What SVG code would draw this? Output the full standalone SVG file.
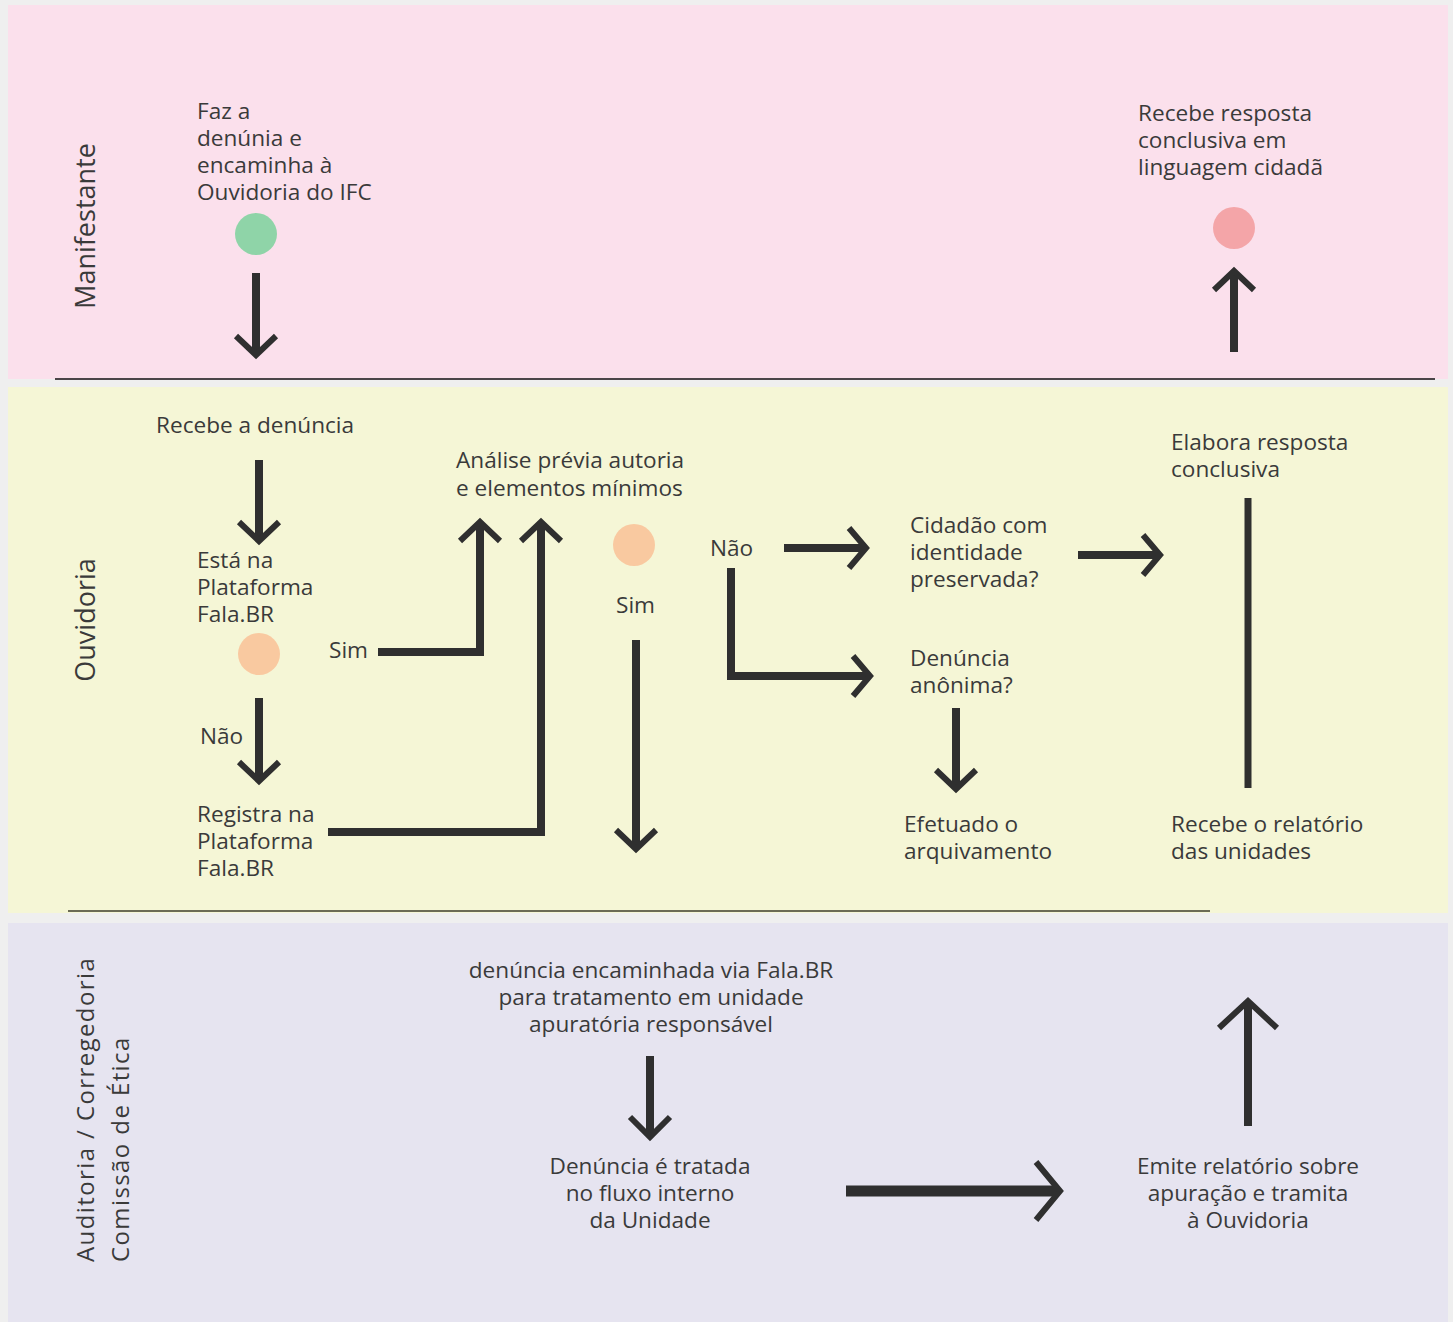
<svg xmlns="http://www.w3.org/2000/svg" width="1453" height="1322" viewBox="0 0 1453 1322">
<style>
.t{font-family:"Open Sans","Liberation Sans",sans-serif;font-size:22.6px;fill:#3a3a3a}
.c{text-anchor:middle}
.lane{font-family:"Open Sans","Liberation Sans",sans-serif;font-size:27px;fill:#3a3a3a}
.lane2{font-family:"Open Sans","Liberation Sans",sans-serif;font-size:24px;fill:#3a3a3a;letter-spacing:1.4px}
.sh{fill:none;stroke:#2f2f2f;stroke-width:8;stroke-linejoin:miter}
.hd{fill:none;stroke:#2f2f2f;stroke-width:6;stroke-linejoin:miter}
</style>
<rect x="0" y="0" width="1453" height="1322" fill="#efefef"/>
<g id="lanes">
<rect x="8" y="5" width="1440" height="374" fill="#fbe0ec"/>
<rect x="8" y="387" width="1440" height="526" fill="#f5f6d6"/>
<rect x="8" y="923" width="1440" height="399" fill="#e6e4f0"/>
<line x1="55" y1="379" x2="1435" y2="379" stroke="#4a4548" stroke-width="2"/>
<line x1="68" y1="911" x2="1210" y2="911" stroke="#6b6b55" stroke-width="2"/>
<text class="lane" transform="translate(95,226) rotate(-90)" text-anchor="middle">Manifestante</text>
<text class="lane" transform="translate(95,620) rotate(-90)" text-anchor="middle">Ouvidoria</text>
<text class="lane2" transform="translate(129,1262) rotate(-90)"><tspan x="0" y="-35">Auditoria / Corregedoria</tspan><tspan x="0" y="0">Comissão de Ética</tspan></text>
</g>
<g id="n-faz">
<text class="t"><tspan x="197" y="119">Faz a</tspan><tspan x="197" y="146">denúnia e</tspan><tspan x="197" y="173">encaminha à</tspan><tspan x="197" y="200">Ouvidoria do IFC</tspan></text>
<circle cx="256" cy="234" r="21" fill="#8fd4a8"/>
</g>
<g id="n-recebe-resposta">
<text class="t"><tspan x="1138" y="121">Recebe resposta</tspan><tspan x="1138" y="148">conclusiva em</tspan><tspan x="1138" y="175">linguagem cidadã</tspan></text>
<circle cx="1234" cy="228" r="21" fill="#f4a5a8"/>
</g>
<g id="n-recebe-denuncia"><text class="t" x="156" y="433">Recebe a denúncia</text></g>
<g id="n-esta">
<text class="t"><tspan x="197" y="568">Está na</tspan><tspan x="197" y="595">Plataforma</tspan><tspan x="197" y="622">Fala.BR</tspan></text>
<circle cx="259" cy="654" r="21" fill="#f9c9a0"/>
</g>
<g id="n-registra">
<text class="t"><tspan x="197" y="822">Registra na</tspan><tspan x="197" y="849">Plataforma</tspan><tspan x="197" y="876">Fala.BR</tspan></text>
</g>
<g id="n-analise">
<text class="t"><tspan x="456" y="468">Análise prévia autoria</tspan><tspan x="456" y="496">e elementos mínimos</tspan></text>
<circle cx="634" cy="545" r="21" fill="#f9c9a0"/>
</g>
<g id="n-cidadao">
<text class="t"><tspan x="910" y="533">Cidadão com</tspan><tspan x="910" y="560">identidade</tspan><tspan x="910" y="587">preservada?</tspan></text>
</g>
<g id="n-anonima">
<text class="t"><tspan x="910" y="666">Denúncia</tspan><tspan x="910" y="693">anônima?</tspan></text>
</g>
<g id="n-arquivamento">
<text class="t"><tspan x="904" y="832">Efetuado o</tspan><tspan x="904" y="859">arquivamento</tspan></text>
</g>
<g id="n-elabora">
<text class="t"><tspan x="1171" y="450">Elabora resposta</tspan><tspan x="1171" y="477">conclusiva</tspan></text>
</g>
<g id="n-recebe-relatorio">
<text class="t"><tspan x="1171" y="832">Recebe o relatório</tspan><tspan x="1171" y="859">das unidades</tspan></text>
</g>
<g id="n-encaminhada">
<text class="t c"><tspan x="651" y="978">denúncia encaminhada via Fala.BR</tspan><tspan x="651" y="1005">para tratamento em unidade</tspan><tspan x="651" y="1032">apuratória responsável</tspan></text>
</g>
<g id="n-tratada">
<text class="t c"><tspan x="650" y="1174">Denúncia é tratada</tspan><tspan x="650" y="1201">no fluxo interno</tspan><tspan x="650" y="1228">da Unidade</tspan></text>
</g>
<g id="n-emite">
<text class="t c"><tspan x="1248" y="1174">Emite relatório sobre</tspan><tspan x="1248" y="1201">apuração e tramita</tspan><tspan x="1248" y="1228">à Ouvidoria</tspan></text>
</g>
<g id="connectors">
<line class="sh" x1="256" y1="273" x2="256" y2="352"/>
<polyline class="hd" points="236,336 256,355 276,336"/>
<line class="sh" x1="1234" y1="352" x2="1234" y2="272"/>
<polyline class="hd" points="1214,290 1234,271 1254,290"/>
<line class="sh" x1="259" y1="460" x2="259" y2="538"/>
<polyline class="hd" points="239,522 259,541 279,522"/>
<text class="t" x="200" y="744">Não</text>
<line class="sh" x1="259" y1="698" x2="259" y2="778"/>
<polyline class="hd" points="239,762 259,781 279,762"/>
<text class="t" x="329" y="658">Sim</text>
<polyline class="sh" points="378,652 480,652 480,526"/>
<polyline class="hd" points="460,541 480,522 500,541"/>
<polyline class="sh" points="328,832 541,832 541,526"/>
<polyline class="hd" points="521,541 541,522 561,541"/>
<text class="t" x="616" y="613">Sim</text>
<line class="sh" x1="636" y1="640" x2="636" y2="846"/>
<polyline class="hd" points="616,830 636,849 656,830"/>
<text class="t" x="710" y="556">Não</text>
<line class="sh" x1="784" y1="548" x2="864" y2="548"/>
<polyline class="hd" points="849,528 866,548 849,568"/>
<polyline class="sh" points="731,568 731,676 868,676"/>
<polyline class="hd" points="853,656 870,676 853,696"/>
<line class="sh" x1="1078" y1="555" x2="1158" y2="555"/>
<polyline class="hd" points="1143,535 1160,555 1143,575"/>
<line class="sh" x1="956" y1="708" x2="956" y2="786"/>
<polyline class="hd" points="936,770 956,789 976,770"/>
<line x1="1248" y1="498" x2="1248" y2="788" stroke="#2f2f2f" stroke-width="7"/>
<line class="sh" x1="650" y1="1056" x2="650" y2="1134"/>
<polyline class="hd" points="630,1117 650,1137 670,1117"/>
<line x1="846" y1="1191" x2="1058" y2="1191" stroke="#2f2f2f" stroke-width="11"/>
<polyline class="hd" points="1036,1162 1060,1191 1036,1220"/>
<line class="sh" x1="1248" y1="1126" x2="1248" y2="1004"/>
<polyline class="hd" points="1219,1028 1248,1001 1277,1028"/>
</g>
</svg>
